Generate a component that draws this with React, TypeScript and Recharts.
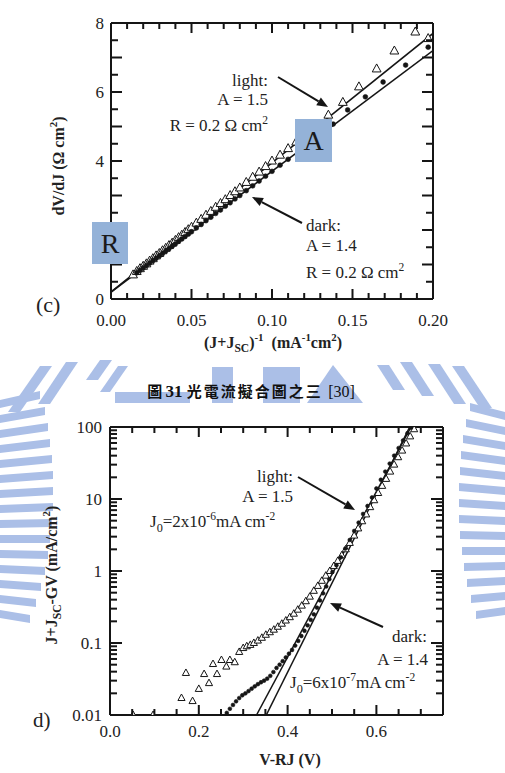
import React from 'react';
import { ComposedChart, XAxis, YAxis, Scatter, Line } from 'recharts';

// ---------- Panel (c): dV/dJ vs (J+Jsc)^-1 ----------
const topLightX = [0.0137, 0.016, 0.018, 0.02, 0.022, 0.024, 0.026, 0.028, 0.03, 0.032, 0.034, 0.036, 0.038, 0.04, 0.042, 0.044, 0.046, 0.048, 0.05, 0.053, 0.056, 0.059, 0.062, 0.065, 0.068, 0.071, 0.074, 0.077, 0.08, 0.084, 0.088, 0.092, 0.096, 0.1, 0.105, 0.11, 0.115, 0.135, 0.144, 0.154, 0.165, 0.176, 0.189, 0.197];
const topLightY = [0.7, 0.8, 0.88, 0.95, 1.02, 1.1, 1.17, 1.25, 1.32, 1.4, 1.47, 1.55, 1.62, 1.7, 1.78, 1.85, 1.93, 2.01, 2.08, 2.2, 2.31, 2.43, 2.54, 2.66, 2.77, 2.88, 3.0, 3.11, 3.22, 3.38, 3.53, 3.68, 3.84, 4.0, 4.17, 4.36, 4.55, 5.33, 5.7, 6.15, 6.67, 7.19, 7.74, 7.55];
const topDarkX = [0.016, 0.018, 0.02, 0.022, 0.024, 0.026, 0.028, 0.03, 0.032, 0.034, 0.036, 0.038, 0.04, 0.042, 0.044, 0.046, 0.048, 0.05, 0.053, 0.056, 0.059, 0.062, 0.065, 0.068, 0.071, 0.074, 0.077, 0.08, 0.084, 0.088, 0.092, 0.096, 0.1, 0.105, 0.11, 0.116, 0.138, 0.147, 0.158, 0.169, 0.183, 0.197];
const topDarkY = [0.76, 0.83, 0.9, 0.97, 1.04, 1.11, 1.18, 1.25, 1.32, 1.39, 1.46, 1.53, 1.6, 1.67, 1.74, 1.81, 1.88, 1.95, 2.06, 2.16, 2.27, 2.37, 2.48, 2.58, 2.69, 2.79, 2.9, 3.0, 3.14, 3.28, 3.42, 3.56, 3.7, 3.88, 4.05, 4.26, 5.07, 5.48, 5.86, 6.29, 6.78, 7.3];
const topLightFitX = [0, 0.2];
const topLightFitY = [0.2, 7.7];
const topDarkFitX = [0, 0.2];
const topDarkFitY = [0.2, 7.2];

const topXMinor = [0.01, 0.02, 0.03, 0.04, 0.06, 0.07, 0.08, 0.09, 0.11, 0.12, 0.13, 0.14, 0.16, 0.17, 0.18, 0.19];
const topXMajor = [0.05, 0.1, 0.15];
const topXLabels = [0, 0.05, 0.1, 0.15, 0.2];
const topYMinor = [0.5, 1.5, 2.5, 3.5, 4.5, 5.5, 6.5, 7.5];
const topYMajor = [1, 2, 3, 4, 5, 6, 7];
const topYLabels = [0, 4, 6, 8]; // "2" sits behind the R box in the original

// ---------- Panel (d): J+Jsc-GV vs V-RJ (log) ----------
const botLightX = [0.052, 0.097, 0.161, 0.171, 0.186, 0.2, 0.212, 0.223, 0.232, 0.241, 0.251, 0.262, 0.27, 0.281, 0.291, 0.3, 0.308, 0.316, 0.324, 0.333, 0.342, 0.351, 0.36, 0.369, 0.378, 0.387, 0.396, 0.405, 0.414, 0.423, 0.432, 0.441, 0.45, 0.459, 0.468, 0.477, 0.486, 0.495, 0.504, 0.513, 0.522, 0.531, 0.54, 0.55, 0.559, 0.568, 0.577, 0.586, 0.595, 0.604, 0.613, 0.622, 0.631, 0.64, 0.649, 0.658, 0.667, 0.676, 0.685];
const botLightY = [0.01, 0.01, 0.0172, 0.0383, 0.0156, 0.023, 0.037, 0.0277, 0.051, 0.037, 0.058, 0.047, 0.058, 0.054, 0.075, 0.085, 0.09, 0.094, 0.1, 0.108, 0.118, 0.13, 0.141, 0.153, 0.168, 0.185, 0.205, 0.228, 0.255, 0.29, 0.33, 0.38, 0.44, 0.53, 0.62, 0.73, 0.86, 1.0, 1.17, 1.38, 1.65, 2.0, 2.45, 3.1, 3.9, 4.9, 6.1, 7.7, 9.6, 12.1, 15.2, 19, 24, 30, 38, 47, 59, 74, 93];
const botDarkX = [0.263, 0.27, 0.277, 0.284, 0.291, 0.298, 0.305, 0.312, 0.319, 0.326, 0.333, 0.34, 0.347, 0.354, 0.361, 0.368, 0.375, 0.382, 0.389, 0.396, 0.403, 0.41, 0.417, 0.424, 0.431, 0.438, 0.445, 0.452, 0.459, 0.466, 0.473, 0.48, 0.487, 0.494, 0.501, 0.51, 0.52, 0.53, 0.54, 0.55, 0.56, 0.57, 0.58, 0.59, 0.6, 0.61, 0.62, 0.63, 0.64, 0.65, 0.66, 0.67, 0.678];
const botDarkY = [0.0107, 0.0122, 0.0138, 0.0155, 0.0172, 0.0188, 0.02, 0.0215, 0.0232, 0.025, 0.0268, 0.0285, 0.03, 0.032, 0.035, 0.0395, 0.045, 0.05, 0.056, 0.063, 0.071, 0.08, 0.092, 0.107, 0.125, 0.148, 0.176, 0.21, 0.25, 0.31, 0.39, 0.49, 0.61, 0.77, 0.97, 1.2, 1.55, 2.05, 2.7, 3.6, 4.7, 6.2, 8, 10.5, 14, 18.5, 24, 31, 40, 51, 65, 82, 98];
const botLightFitX = [0.33, 0.678];
const botLightFitY = [0.01, 100];
const botDarkFitX = [0.352, 0.675];
const botDarkFitY = [0.01, 100];

const botXMinor = [0.05, 0.1, 0.15, 0.25, 0.3, 0.35, 0.45, 0.5, 0.55, 0.65, 0.7];
const botXMajor = [0.2, 0.4, 0.6];
const botXLabels = [0, 0.2, 0.4, 0.6];
const botYMinor = [0.02, 0.03, 0.04, 0.05, 0.06, 0.07, 0.08, 0.09, 0.2, 0.3, 0.4, 0.5, 0.6, 0.7, 0.8, 0.9, 2, 3, 4, 5, 6, 7, 8, 9, 20, 30, 40, 50, 60, 70, 80, 90];
const botYMajor = [0.1, 1, 10];
const botYLabels = [0.01, 0.1, 1, 10, 100];

const zip = (xs: number[], ys: number[]) => xs.map((x, i) => ({ x, y: ys[i] }));

const INK = '#151515';
const SERIF = '"Liberation Serif", "DejaVu Serif", serif';

// plot boxes (page pixels) set by the chart margins below
const TOP_BOX = { x0: 111, x1: 433, y0: 23, y1: 299 };
const BOT_BOX = { x0: 110, x1: 443, y0: 427, y1: 715 };

const has = (arr: number[], v: number) => arr.some((m) => Math.abs(m - v) <= 1e-9 * Math.max(1, Math.abs(m)));

function makeLabel(side: string, labels: number[], fmt: (v: number) => string, dist: number, fs: number) {
  return (props: any) => {
    const { x, y, payload } = props;
    const v = payload.value;
    if (!has(labels, v)) return <g />;
    if (side === 'bottom') {
      return <text x={x} y={y + dist} textAnchor="middle" fontSize={fs} fill="#222" fontFamily={SERIF}>{fmt(v)}</text>;
    }
    return <text x={x - dist} y={y} dy="0.35em" textAnchor="end" fontSize={fs} fill="#222" fontFamily={SERIF}>{fmt(v)}</text>;
  };
}

// inward frame ticks on all four sides, drawn as thin filled rectangles
function FrameTicks(p: { box: { x0: number; x1: number; y0: number; y1: number }; sx: (v: number) => number; sy: (v: number) => number; xMajor: number[]; xMinor: number[]; yMajor: number[]; yMinor: number[]; xl: number; xs: number; yl: number; ys: number }) {
  const { box } = p;
  const out: any[] = [];
  const w = 2;
  const xs: Array<[number, number]> = [];
  p.xMajor.forEach((v) => xs.push([v, p.xl]));
  p.xMinor.forEach((v) => xs.push([v, p.xs]));
  const ys: Array<[number, number]> = [];
  p.yMajor.forEach((v) => ys.push([v, p.yl]));
  p.yMinor.forEach((v) => ys.push([v, p.ys]));
  xs.forEach(([v, len], i) => {
    const x = p.sx(v);
    out.push(<rect key={'xb' + i} x={x - w / 2} y={box.y1 - len} width={w} height={len} fill={INK} />);
    out.push(<rect key={'xt' + i} x={x - w / 2} y={box.y0} width={w} height={len} fill={INK} />);
  });
  ys.forEach(([v, len], i) => {
    const y = p.sy(v);
    out.push(<rect key={'yl' + i} x={box.x0} y={y - w / 2} width={len} height={w} fill={INK} />);
    out.push(<rect key={'yr' + i} x={box.x1 - len} y={y - w / 2} width={len} height={w} fill={INK} />);
  });
  return <g>{out}</g>;
}

const triShape = (s: number) => (p: any) => {
  const { cx, cy } = p;
  if (cx == null || cy == null) return <g />;
  return <polygon points={`${cx},${cy - s * 0.62} ${cx - s * 0.55},${cy + s * 0.38} ${cx + s * 0.55},${cy + s * 0.38}`} fill="#fff" stroke={INK} strokeWidth={1} />;
};
const dotShape = (r: number) => (p: any) => {
  const { cx, cy } = p;
  if (cx == null || cy == null) return <g />;
  return <circle cx={cx} cy={cy} r={r} fill={INK} stroke={INK} strokeWidth={0.6} />;
};

const axisLine = { stroke: INK, strokeWidth: 2 };

function Arrow({ x1, y1, x2, y2 }: { x1: number; y1: number; x2: number; y2: number }) {
  const dx = x2 - x1, dy = y2 - y1;
  const L = Math.sqrt(dx * dx + dy * dy);
  const ux = dx / L, uy = dy / L;
  const hl = 11, hw = 4.5;
  const bx = x2 - ux * hl, by = y2 - uy * hl;
  return (
    <g>
      <line x1={x1} y1={y1} x2={bx} y2={by} stroke={INK} strokeWidth={2} />
      <polygon points={`${x2},${y2} ${bx - uy * hw},${by + ux * hw} ${bx + uy * hw},${by - ux * hw}`} fill={INK} />
    </g>
  );
}

type Seg = { t: string; k?: 'sub' | 'sup' };
function rich(segs: Seg[], fs: number) {
  let cur = 0;
  return segs.map((s, i) => {
    const target = s.k === 'sup' ? -fs * 0.42 : s.k === 'sub' ? fs * 0.28 : 0;
    const dy = target - cur;
    cur = target;
    const size = s.k === 'sup' ? fs * 0.68 : s.k === 'sub' ? fs * 0.72 : fs;
    return <tspan key={i} dy={dy} fontSize={size}>{s.t}</tspan>;
  });
}

const WM = '#abbfe7';

function Watermark() {
  const leftY = [400, 415, 430, 445, 460, 475, 490, 505, 520, 535, 550, 565, 580, 595, 610];
  const leftEnd = [40, 45, 48, 50, 52, 53, 53, 53, 52, 50, 48, 45, 41, 36, 30];
  const leftTilt = [9, 8, 7, 6, 5, 4, 3, 2, 1, 0, -1, -2, -3, -4, -5];
  const rightY = [412, 427, 442, 457, 472, 487, 502, 517, 532, 547, 562, 577, 592, 607];
  const rightStart = [470, 466, 463, 461, 460, 459, 459, 459, 460, 462, 464, 467, 471, 476];
  return (
    <svg width={505} height={773} style={{ position: 'absolute', left: 0, top: 0 }}>
      {leftY.map((y, i) => (
        <polygon key={'l' + i} points={`0,${y} ${leftEnd[i]},${y - leftTilt[i]} ${leftEnd[i]},${y - leftTilt[i] + 8} 0,${y + 8}`} fill={WM} />
      ))}
      {rightY.map((y, i) => (
        <polygon key={'r' + i} points={`${rightStart[i]},${y - leftTilt[i]} 505,${y} 505,${y + 8} ${rightStart[i]},${y - leftTilt[i] + 8}`} fill={WM} />
      ))}
      <polygon points="8,412 40,366 52,366 20,412" fill={WM} />
      <polygon points="38,404 66,362 78,362 50,404" fill={WM} />
      <polygon points="86,380 100,360 112,360 98,380" fill={WM} />
      <polygon points="100,392 118,366 128,366 110,392" fill={WM} />
      <rect x={115} y={392} width={75} height={11} fill={WM} />
      <rect x={212} y={367} width={21} height={36} fill={WM} />
      <rect x={263} y={367} width={37} height={36} fill={WM} />
      <polygon points="307,403 333,365 363,403" fill={WM} />
      <polygon points="377,365 389,365 405,390 393,390" fill={WM} />
      <polygon points="400,362 412,362 434,396 422,396" fill={WM} />
      <polygon points="428,364 440,364 466,404 454,404" fill={WM} />
      <polygon points="452,366 464,366 492,408 480,408" fill={WM} />
      <rect x={58} y={412} width={398} height={361} fill="#fff" />
      <rect x={0} y={0} width={505} height={357} fill="#fff" />
    </svg>
  );
}

function Overlay() {
  const fs = 17;
  const tfs = 16;
  const tsx = (v: number) => TOP_BOX.x0 + (v / 0.2) * (TOP_BOX.x1 - TOP_BOX.x0);
  const tsy = (v: number) => TOP_BOX.y1 - (v / 8) * (TOP_BOX.y1 - TOP_BOX.y0);
  const bsx = (v: number) => BOT_BOX.x0 + (v / 0.75) * (BOT_BOX.x1 - BOT_BOX.x0);
  const bsy = (v: number) => BOT_BOX.y1 - ((Math.log10(v) + 2) / 4) * (BOT_BOX.y1 - BOT_BOX.y0);
  return (
    <svg width={505} height={773} style={{ position: 'absolute', left: 0, top: 0, pointerEvents: 'none' }} fontFamily={SERIF}>
      <FrameTicks box={TOP_BOX} sx={tsx} sy={tsy} xMajor={topXMajor} xMinor={topXMinor} yMajor={topYMajor} yMinor={topYMinor} xl={10} xs={6} yl={11} ys={7} />
      <FrameTicks box={BOT_BOX} sx={bsx} sy={bsy} xMajor={botXMajor} xMinor={botXMinor} yMajor={botYMajor} yMinor={botYMinor} xl={10} xs={6} yl={12} ys={7} />
      <g fill="#222" fontSize={fs}>
        <text x={268} y={86} textAnchor="end">light:</text>
        <text x={268} y={105} textAnchor="end">A = 1.5</text>
        <text x={268} y={131} textAnchor="end">{rich([{ t: 'R = 0.2 Ω cm' }, { t: '2', k: 'sup' }], fs)}</text>
        <text x={306} y={231}>dark:</text>
        <text x={306} y={251}>A = 1.4</text>
        <text x={306} y={278}>{rich([{ t: 'R = 0.2 Ω cm' }, { t: '2', k: 'sup' }], fs)}</text>
      </g>
      <Arrow x1={278} y1={77} x2={328} y2={107} />
      <Arrow x1={302} y1={223} x2={252} y2={197} />
      <rect x={295} y={119} width={37} height={43} fill="#94b2d8" />
      <text x={313.5} y={150} textAnchor="middle" fontSize={28} fill="#1a1a1a">A</text>
      <rect x={92} y={222} width={36} height={42} fill="#94b2d8" />
      <text x={110} y={253} textAnchor="middle" fontSize={28} fill="#1a1a1a">R</text>
      <text x={36} y={312} fontSize={22} fill="#222">(c)</text>
      <text x={273} y={348} textAnchor="middle" fontSize={tfs} fontWeight="bold" fill="#222" style={{ whiteSpace: 'pre' }}>
        {rich([{ t: '(J+J' }, { t: 'SC', k: 'sub' }, { t: ')' }, { t: '-1', k: 'sup' }, { t: '  (mA' }, { t: '-1', k: 'sup' }, { t: 'cm' }, { t: '2', k: 'sup' }, { t: ')' }], tfs)}
      </text>
      <text transform="translate(64,166) rotate(-90)" textAnchor="middle" fontSize={tfs} fontWeight="bold" fill="#222">
        {rich([{ t: 'dV/dJ (Ω cm' }, { t: '2', k: 'sup' }, { t: ')' }], tfs)}
      </text>

      <text x={251} y={397} textAnchor="middle" fontSize={15} fill="#111" style={{ whiteSpace: 'pre' }}>
        <tspan fontFamily='"Noto Sans CJK TC", sans-serif' fontWeight="bold">圖 </tspan>
        <tspan fontFamily={SERIF} fontWeight="bold" fontSize={17}>31 </tspan>
        <tspan fontFamily='"Noto Sans CJK TC", sans-serif' fontWeight="bold" letterSpacing={2}>光電流擬合圖之三 </tspan>
        <tspan fontFamily={SERIF} fontSize={16}>[30]</tspan>
      </text>

      <g fill="#222" fontSize={fs}>
        <text x={293} y={482} textAnchor="end">light:</text>
        <text x={293} y={502} textAnchor="end">A = 1.5</text>
        <text x={150} y={527}>{rich([{ t: 'J' }, { t: '0', k: 'sub' }, { t: '=2x10' }, { t: '-6', k: 'sup' }, { t: 'mA cm' }, { t: '-2', k: 'sup' }], fs)}</text>
        <text x={427} y={642} textAnchor="end">dark:</text>
        <text x={428} y={665} textAnchor="end">A = 1.4</text>
        <text x={290} y={688}>{rich([{ t: 'J' }, { t: '0', k: 'sub' }, { t: '=6x10' }, { t: '-7', k: 'sup' }, { t: 'mA cm' }, { t: '-2', k: 'sup' }], fs)}</text>
      </g>
      <Arrow x1={298} y1={477} x2={355} y2={510} />
      <Arrow x1={383} y1={627} x2={330} y2={603} />
      <text x={33} y={727} fontSize={21} fill="#222">d)</text>
      <text x={290} y={765} textAnchor="middle" fontSize={tfs} fontWeight="bold" fill="#222">V-RJ (V)</text>
      <text transform="translate(57,575) rotate(-90)" textAnchor="middle" fontSize={tfs} fontWeight="bold" fill="#222">
        {rich([{ t: 'J+J' }, { t: 'SC', k: 'sub' }, { t: '-GV (mA/cm' }, { t: '2', k: 'sup' }, { t: ')' }], tfs)}
      </text>
    </svg>
  );
}

function Frame(cfg: { xd: number[]; yd: number[]; log?: boolean; xLabels: number[]; yLabels: number[]; xFmt: (v: number) => string; yFmt: (v: number) => string; xDist: number; yDist: number }) {
  const scale = cfg.log ? 'log' : 'auto';
  return [
    <XAxis key="b" xAxisId="b" orientation="bottom" type="number" dataKey="x" domain={cfg.xd} allowDataOverflow ticks={cfg.xLabels} interval={0} height={1} tickSize={0} tickMargin={0} tickLine={false} axisLine={axisLine} tick={makeLabel('bottom', cfg.xLabels, cfg.xFmt, cfg.xDist, 17)} />,
    <XAxis key="t" xAxisId="t" orientation="top" type="number" dataKey="x" domain={cfg.xd} allowDataOverflow ticks={cfg.xLabels} interval={0} height={1} tickSize={0} tickMargin={0} tickLine={false} axisLine={axisLine} tick={false} />,
    <YAxis key="l" yAxisId="l" orientation="left" type="number" dataKey="y" scale={scale} domain={cfg.yd} allowDataOverflow ticks={cfg.yLabels} interval={0} width={1} tickSize={0} tickMargin={0} tickLine={false} axisLine={axisLine} tick={makeLabel('left', cfg.yLabels, cfg.yFmt, cfg.yDist, 17)} />,
    <YAxis key="r" yAxisId="r" orientation="right" type="number" dataKey="y" scale={scale} domain={cfg.yd} allowDataOverflow ticks={cfg.yLabels} interval={0} width={1} tickSize={0} tickMargin={0} tickLine={false} axisLine={axisLine} tick={false} />,
  ];
}

function TopChart() {
  const xd = [0, 0.2], yd = [0, 8];
  return (
    <ComposedChart width={505} height={355} margin={{ top: 22, right: 71, bottom: 55, left: 110 }}>
      {Frame({ xd, yd, xLabels: topXLabels, yLabels: topYLabels, xFmt: (v) => v.toFixed(2), yFmt: (v) => String(v), xDist: 27, yDist: 7 })}
      <Line xAxisId="b" yAxisId="l" data={zip(topLightFitX, topLightFitY)} dataKey="y" type="linear" stroke={INK} strokeWidth={1.6} dot={false} isAnimationActive={false} />
      <Line xAxisId="b" yAxisId="l" data={zip(topDarkFitX, topDarkFitY)} dataKey="y" type="linear" stroke={INK} strokeWidth={1.6} dot={false} isAnimationActive={false} />
      <Scatter xAxisId="b" yAxisId="l" data={zip(topLightX, topLightY)} shape={triShape(8)} isAnimationActive={false} />
      <Scatter xAxisId="b" yAxisId="l" data={zip(topDarkX, topDarkY)} shape={dotShape(2.4)} isAnimationActive={false} />
    </ComposedChart>
  );
}

function BottomChart() {
  const xd = [0, 0.75], yd = [0.01, 100];
  return (
    <ComposedChart width={505} height={413} margin={{ top: 66, right: 61, bottom: 57, left: 109 }}>
      {Frame({ xd, yd, log: true, xLabels: botXLabels, yLabels: botYLabels, xFmt: (v) => v.toFixed(1), yFmt: (v) => String(v), xDist: 22, yDist: 8 })}
      <Line xAxisId="b" yAxisId="l" data={zip(botLightFitX, botLightFitY)} dataKey="y" type="linear" stroke={INK} strokeWidth={1.5} dot={false} isAnimationActive={false} />
      <Line xAxisId="b" yAxisId="l" data={zip(botDarkFitX, botDarkFitY)} dataKey="y" type="linear" stroke={INK} strokeWidth={1.5} dot={false} isAnimationActive={false} />
      <Scatter xAxisId="b" yAxisId="l" data={zip(botLightX, botLightY)} shape={triShape(6.5)} isAnimationActive={false} />
      <Scatter xAxisId="b" yAxisId="l" data={zip(botDarkX, botDarkY)} shape={dotShape(1.9)} isAnimationActive={false} />
    </ComposedChart>
  );
}

export default function App() {
  return (
    <div style={{ position: 'absolute', left: 0, top: 0, width: 505, height: 773, background: '#fff', overflow: 'hidden', fontFamily: SERIF }}>
      <Watermark />
      <div style={{ position: 'absolute', left: 0, top: 0 }}>
        <TopChart />
      </div>
      <div style={{ position: 'absolute', left: 0, top: 360 }}>
        <BottomChart />
      </div>
      <Overlay />
    </div>
  );
}
